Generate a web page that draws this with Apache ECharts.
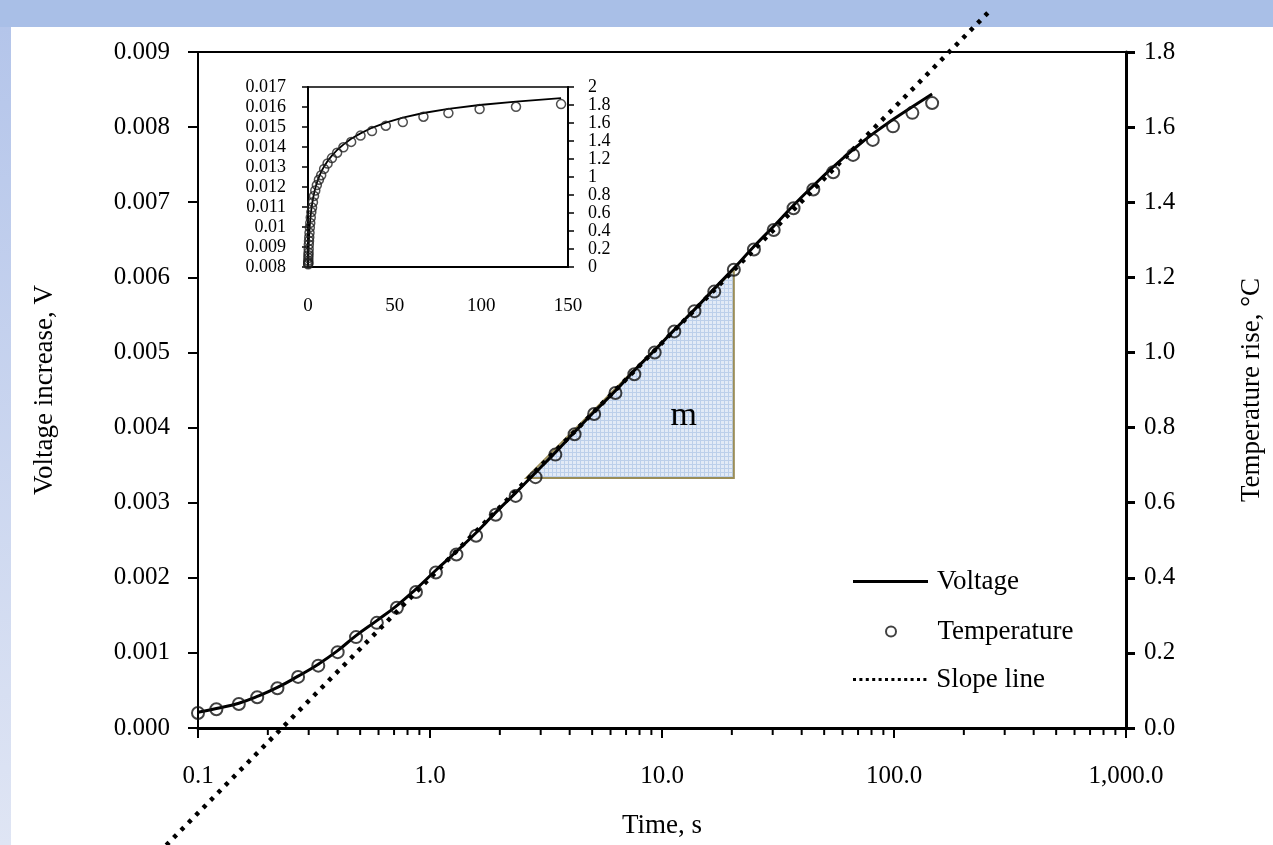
<!DOCTYPE html>
<html><head><meta charset="utf-8">
<script src="https://cdn.jsdelivr.net/npm/echarts@6/dist/echarts.min.js"></script>
<style>html,body{margin:0;padding:0;background:#fff;}#c{width:1273px;height:845px;}</style>
</head><body><div id="c"></div>
<script>
// ---- data ----
const times = [0.1,0.12,0.15,0.18,0.22,0.27,0.33,0.40,0.48,0.59,0.72,0.87,1.06,1.3,1.58,1.92,2.34,2.85,3.47,4.2,5.1,6.3,7.6,9.3,11.3,13.8,16.8,20.4,24.9,30.3,36.9,44.9,54.7,66.6,81,99,120,146];
const voltage = [0.00021,0.00026,0.00033,0.00042,0.00054,0.00069,0.00085,0.00103,0.00123,0.00143,0.00163,0.00185,0.0021,0.00235,0.0026,0.00287,0.00313,0.0034,0.00367,0.00394,0.00421,0.00449,0.00476,0.00503,0.0053,0.00557,0.00585,0.00612,0.00641,0.00668,0.00696,0.00722,0.00747,0.0077,0.00791,0.0081,0.00827,0.00844];
const temperature = [0.040,0.050,0.064,0.082,0.106,0.136,0.166,0.202,0.242,0.280,0.320,0.362,0.414,0.462,0.512,0.568,0.618,0.668,0.728,0.782,0.836,0.892,0.942,1.000,1.056,1.110,1.162,1.220,1.274,1.326,1.384,1.434,1.480,1.526,1.566,1.602,1.638,1.664];
const slopeTimes = [0.073, 263];
const slopeVoltage = [-0.00156, 0.00957];
const triangleTimes = [2.6, 20.4, 20.4];
const triangleVoltage = [0.00333, 0.00333, 0.0061];
const mLabelTime = 12.4;
const mLabelVoltage = 0.00415;
const minorTickTimes = [0.2,0.3,0.4,0.5,0.6,0.7,0.8,0.9,2,3,4,5,6,7,8,9,20,30,40,50,60,70,80,90,200,300,400,500,600,700,800,900];
const xTickLabels = ['0.1','1.0','10.0','100.0','1,000.0'];
// inset
const insetLineTimes = [0,0.1,0.12,0.15,0.18,0.22,0.27,0.33,0.40,0.48,0.59,0.72,0.87,1.06,1.3,1.58,1.92,2.34,2.85,3.47,4.2,5.1,6.3,7.6,9.3,11.3,13.8,16.8,20.4,24.9,30.3,36.9,44.9,54.7,66.6,81,99,120,146];
const insetVoltage = [0.008,0.00821,0.00826,0.00833,0.00842,0.00854,0.00869,0.00885,0.00903,0.00923,0.00943,0.00963,0.00985,0.0101,0.01035,0.0106,0.01087,0.01113,0.0114,0.01167,0.01194,0.01221,0.01249,0.01276,0.01303,0.0133,0.01357,0.01385,0.01412,0.01441,0.01468,0.01496,0.01522,0.01547,0.0157,0.01591,0.0161,0.01627,0.01644];
const insetTemperature = [0.03,0.04,0.05,0.07,0.10,0.13,0.16,0.20,0.25,0.29,0.33,0.38,0.44,0.49,0.55,0.61,0.66,0.72,0.79,0.85,0.91,0.97,1.02,1.09,1.15,1.21,1.27,1.33,1.39,1.46,1.51,1.57,1.61,1.67,1.71,1.755,1.78,1.81];

const SERIF = '"Liberation Serif","Times New Roman",serif';
const chart = echarts.init(document.getElementById('c'), null, {renderer:'canvas'});

// fine grid pattern for the slope triangle
const pc = document.createElement('canvas');
pc.width = 4; pc.height = 4;
const pctx = pc.getContext('2d');
pctx.fillStyle = '#e2eaf6'; pctx.fillRect(0,0,4,4);
pctx.fillStyle = '#bccfea'; pctx.fillRect(0,0,4,1); pctx.fillRect(0,0,1,4);

const pair = (xs, ys) => xs.map((x,i)=>[x, ys[i]]);
const txt = (size) => ({fontFamily: SERIF, fontSize: size, color: '#000'});
const dottedIcon = 'path://M0,0h3v3h-3z M6.4,0h3v3h-3z M12.8,0h3v3h-3z M19.2,0h3v3h-3z M25.6,0h3v3h-3z M32,0h3v3h-3z M38.4,0h3v3h-3z M44.8,0h3v3h-3z M51.2,0h3v3h-3z M57.6,0h3v3h-3z M64,0h3v3h-3z M70.4,0h3v3h-3z';

const option = {
  animation: false,
  backgroundColor: '#fff',
  graphic: [
    {type:'rect', silent:true, z:-10, shape:{x:0,y:0,width:1273,height:27}, style:{fill:'#a9bfe7'}},
    {type:'rect', silent:true, z:-10, shape:{x:0,y:27,width:11,height:818},
     style:{fill:new echarts.graphic.LinearGradient(0,0,0,1,[{offset:0,color:'#b4c5ea'},{offset:1,color:'#dfe5f4'}])}}
  ],
  grid: [
    {left:198, right:145, top:52, bottom:117, show:true, borderColor:'#000', borderWidth:2, backgroundColor:'#fff'},
    {left:308, top:87, width:260, height:180, show:true, borderColor:'#000', borderWidth:1.5, backgroundColor:'#fff'}
  ],
  legend: [
    {data:[{name:'Voltage', icon:'path://M0,0H75V3H0Z'}], left:853, top:568, padding:0, itemWidth:75, itemHeight:3, itemGap:0,
     textStyle:Object.assign(txt(27), {padding:[0,0,0,4]})},
    {data:['Temperature'], left:885, top:618, padding:0, itemWidth:75, itemHeight:10, itemGap:0,
     textStyle:Object.assign(txt(27), {padding:[0,0,0,4]})},
    {data:[{name:'Slope line', icon:dottedIcon}], left:853, top:666, padding:0, itemWidth:75, itemHeight:3, itemGap:0,
     textStyle:Object.assign(txt(27), {padding:[0,0,0,4]})}
  ],
  xAxis: [
    {type:'log', logBase:10, min:0.1, max:1000, gridIndex:0,
     axisLine:{onZero:false, lineStyle:{color:'#000', width:3}},
     axisTick:{show:true, length:10, lineStyle:{color:'#000', width:2}},
     axisLabel:Object.assign(txt(25), {margin:36, formatter:v=>xTickLabels[Math.round(Math.log10(v))+1]}),
     splitLine:{show:false},
     name:'Time, s', nameLocation:'middle', nameGap:84, nameTextStyle:txt(27)},
    {type:'value', min:0, max:150, interval:50, gridIndex:1,
     axisLine:{onZero:false, lineStyle:{color:'#000', width:2}},
     axisTick:{show:false},
     axisLabel:Object.assign(txt(19), {margin:30}),
     splitLine:{show:false}}
  ],
  yAxis: [
    {type:'value', min:0, max:0.009, interval:0.001, gridIndex:0, position:'left',
     axisLine:{show:true, lineStyle:{color:'#000', width:2}},
     axisTick:{show:true, length:10, lineStyle:{color:'#000', width:2}},
     axisLabel:Object.assign(txt(25), {margin:28, formatter:v=>v.toFixed(3)}),
     splitLine:{show:false},
     name:'Voltage increase, V', nameLocation:'middle', nameRotate:90, nameGap:140, nameTextStyle:txt(27)},
    {type:'value', min:0, max:1.8, interval:0.2, gridIndex:0, position:'right',
     axisLine:{show:true, lineStyle:{color:'#000', width:3}},
     axisTick:{show:true, length:9, lineStyle:{color:'#000', width:3}},
     axisLabel:Object.assign(txt(25), {margin:18, formatter:v=>v.toFixed(1)}),
     splitLine:{show:false},
     name:'Temperature rise, °C', nameLocation:'middle', nameRotate:90, nameGap:112, nameTextStyle:txt(27)},
    {type:'value', min:0.008, max:0.017, interval:0.001, gridIndex:1, position:'left',
     axisLine:{show:true, lineStyle:{color:'#000', width:2}},
     axisTick:{show:true, length:6, lineStyle:{color:'#000', width:1.5}},
     axisLabel:Object.assign(txt(18), {margin:22, formatter:v=>String(+v.toFixed(3))}),
     splitLine:{show:false}},
    {type:'value', min:0, max:2, interval:0.2, gridIndex:1, position:'right',
     axisLine:{show:true, lineStyle:{color:'#000', width:2}},
     axisTick:{show:true, length:6, lineStyle:{color:'#000', width:1.5}},
     axisLabel:Object.assign(txt(18), {margin:20, formatter:v=>String(+v.toFixed(1))}),
     splitLine:{show:false}}
  ],
  series: [
    {type:'custom', name:'slopeTriangle', xAxisIndex:0, yAxisIndex:0, z:1, silent:true, clip:false,
     data: pair(triangleTimes, triangleVoltage),
     renderItem:(params, api) => {
       if (params.dataIndex !== 0) return null;
       const pts = triangleTimes.map((t,i)=>api.coord([t, triangleVoltage[i]]));
       const mp = api.coord([mLabelTime, mLabelVoltage]);
       return {type:'group', children:[
         {type:'polygon', shape:{points:pts}, style:{fill:{image:pc, repeat:'repeat'}, stroke:'#9b8d57', lineWidth:2}},
         {type:'text', x:mp[0], y:mp[1], style:{text:'m', fontFamily:SERIF, fontSize:34, fill:'#000', align:'center', verticalAlign:'middle'}}
       ]};
     }},
    {type:'custom', name:'minorTicks', xAxisIndex:0, yAxisIndex:0, z:5, silent:true, clip:false,
     data: minorTickTimes.map(t=>[t, 0]),
     renderItem:(params, api) => {
       const c = api.coord([api.value(0), 0]);
       return {type:'line', shape:{x1:c[0], y1:c[1], x2:c[0], y2:c[1]+7}, style:{stroke:'#000', lineWidth:2}};
     }},
    {type:'line', name:'Voltage', xAxisIndex:0, yAxisIndex:0, z:4, data:pair(times, voltage),
     symbol:'none', showSymbol:false, smooth:true, lineStyle:{color:'#000', width:3}, itemStyle:{color:'#000'}},
    {type:'scatter', name:'Temperature', xAxisIndex:0, yAxisIndex:1, z:5, data:pair(times, temperature),
     symbol:'circle', symbolSize:12, itemStyle:{color:'rgba(255,255,255,0)', borderColor:'#111', borderWidth:2}},
    {type:'custom', name:'Slope line', xAxisIndex:0, yAxisIndex:0, z:6, clip:false, silent:true,
     itemStyle:{color:'#000'},
     data: pair(slopeTimes, slopeVoltage),
     renderItem:(params, api) => {
       if (params.dataIndex !== 0) return null;
       const pts = slopeTimes.map((t,i)=>api.coord([t, slopeVoltage[i]]));
       return {type:'polyline', shape:{points:pts}, style:{stroke:'#000', fill:null, lineWidth:4.5, lineDash:[4,6.5], lineCap:'butt'}};
     }},
    {type:'line', name:'insetVoltage', xAxisIndex:1, yAxisIndex:2, z:4, data:pair(insetLineTimes, insetVoltage),
     symbol:'none', showSymbol:false, lineStyle:{color:'#000', width:1.8}},
    {type:'scatter', name:'insetTemperature', xAxisIndex:1, yAxisIndex:3, z:5, data:pair(times, insetTemperature),
     symbol:'circle', symbolSize:9, itemStyle:{color:'rgba(255,255,255,0)', borderColor:'#222', borderWidth:1.5}}
  ]
};
chart.setOption(option);
</script>
</body></html>
